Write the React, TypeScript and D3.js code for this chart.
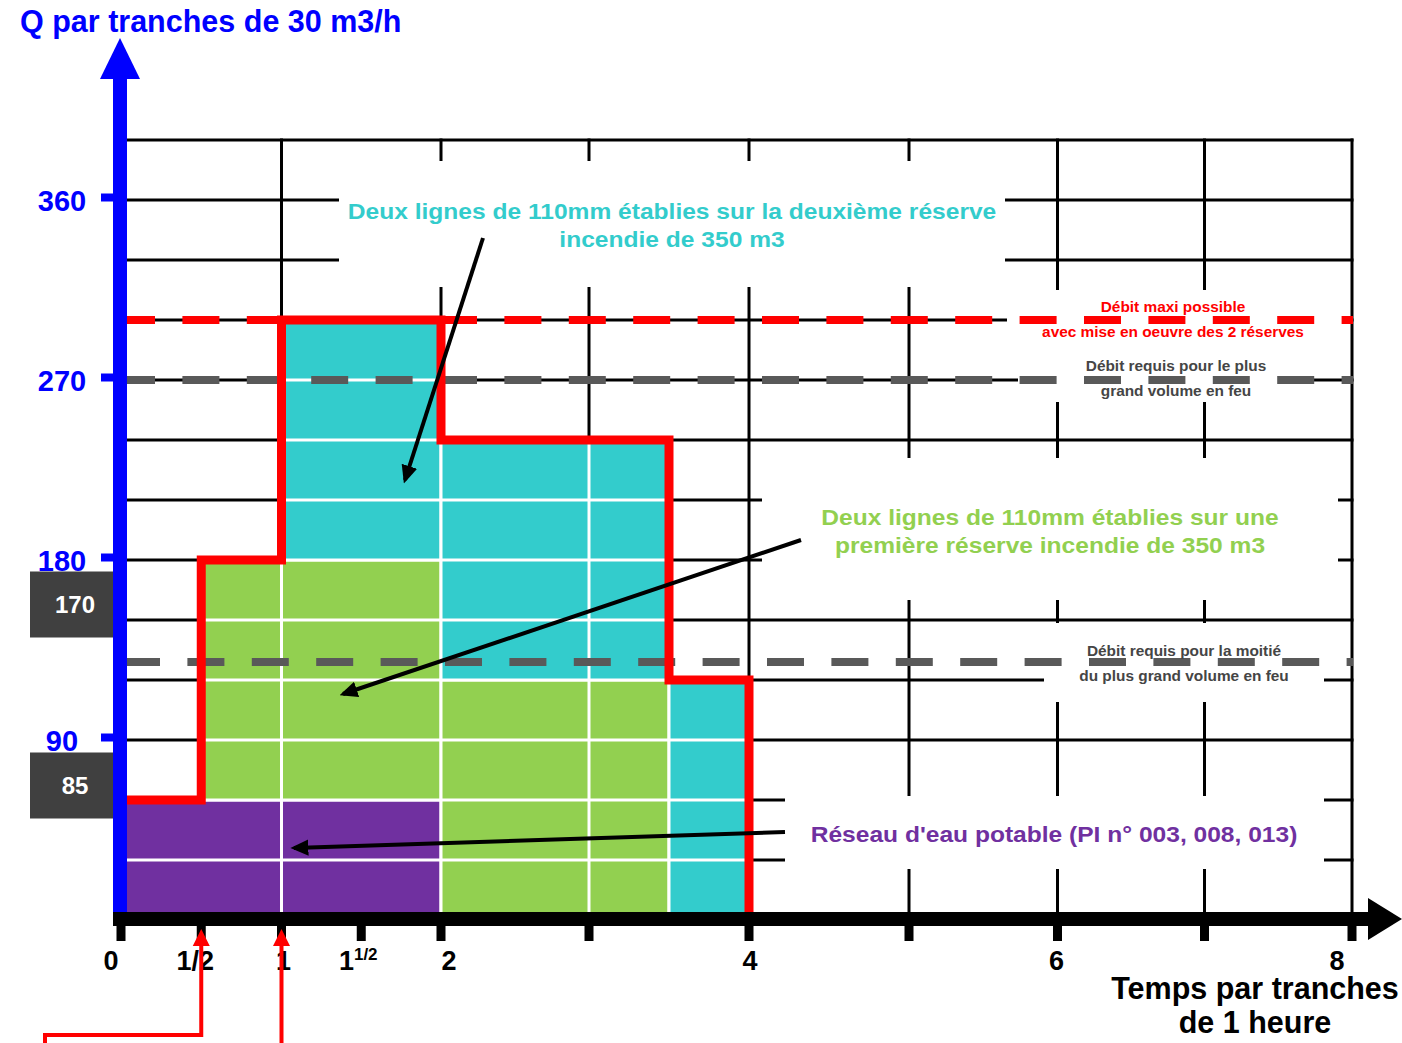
import React from "react";
import * as d3 from "d3";

// ---------------- DATA ----------------
const sourceKeys = ["reseau", "reserve1", "reserve2"];
const sourceStart = [0, 0.5, 1];
const sourceEnd = [2, 3.5, 4];
const sourceFlow = [60, 120, 120];

const yTickValues = [90, 180, 270, 360];
const yGridValues = [30, 60, 90, 120, 150, 180, 210, 240, 270, 300, 330, 360, 390];
const xTickValues = [0, 0.5, 1, 1.5, 2, 3, 4, 5, 6, 7, 8];
const xGridValues = [1, 2, 3, 4, 5, 6, 7, 8];
const xLabelValues = [0, 0.5, 1, 1.5, 2, 4, 6, 8];
const xLabelTexts = ["0", "1/2", "1", "1", "2", "4", "6", "8"];
const xLabelSup = ["", "", "", "1/2", "", "", "", ""];

const refLineValues = [300, 270, 129];
const refLineLabels = [
  ["Débit maxi possible", "avec mise en oeuvre des 2 réserves"],
  ["Débit requis pour le plus", "grand volume en feu"],
  ["Débit requis pour la moitié", "du plus grand volume en feu"],
];

const axisBoxValues = [170, 85];

const titleY = "Q par tranches de 30 m3/h";
const titleX = ["Temps par tranches", "de 1 heure"];

const annReserve2 = ["Deux lignes de 110mm établies sur la deuxième réserve", "incendie de 350 m3"];
const annReserve1 = ["Deux lignes de 110mm établies sur une", "première réserve incendie de 350 m3"];
const annReseau = ["Réseau d'eau potable (PI n° 003, 008, 013)"];

// ---------------- STYLE / LAYOUT ----------------
const W = 1402;
const H = 1043;
const FONT = "'Liberation Sans', Arial, Helvetica, sans-serif";
const COLORS: Record<string, string> = {
  reseau: "#7030A0",
  reserve1: "#92D050",
  reserve2: "#33CCCC",
};
const RED = "#FF0000";
const BLUE = "#0000FF";
const DASHGRAY = "#595959";
const TEXTGRAY = "#454545";
const refLineColors = [RED, DASHGRAY, DASHGRAY];
const refLineTextColors = [RED, TEXTGRAY, TEXTGRAY];
const ANN_SX = 1.117;

const xs = d3
  .scaleLinear()
  .domain([0, 1, 2, 3, 4, 5, 6, 7, 8])
  .range([121, 281.5, 441, 589, 749, 909, 1057.5, 1204.5, 1352]);
const ys = d3.scaleLinear().domain([0, 390]).range([920, 140]);

const labelDx: Record<string, number> = { "0": -10, "0.5": -6, "1": 2, "1.5": -3, "2": 8, "4": 1, "6": -1, "8": -15 };
const boxDy: Record<string, number> = { "170": 24.5, "85": 35.5 };

// stacking
type Seg = { key: string; x0: number; x1: number; y0: number; y1: number };
function buildSegments() {
  const bps = Array.from(new Set([...sourceStart, ...sourceEnd])).sort((a, b) => a - b);
  const raw: Seg[] = [];
  const totals: [number, number][] = [];
  for (let k = 0; k < bps.length - 1; k++) {
    const a = bps[k], b = bps[k + 1];
    let base = 0;
    sourceKeys.forEach((key, i) => {
      if (sourceStart[i] <= a && sourceEnd[i] >= b) {
        raw.push({ key, x0: a, x1: b, y0: base, y1: base + sourceFlow[i] });
        base += sourceFlow[i];
      }
    });
    totals.push([a, base]);
  }
  totals.push([bps[bps.length - 1], 0]);
  const merged: Seg[] = [];
  sourceKeys.forEach((key) => {
    const segs = raw.filter((s) => s.key === key).sort((p, q) => p.x0 - q.x0);
    segs.forEach((s) => {
      const last = merged[merged.length - 1];
      if (last && last.key === key && last.x1 === s.x0 && last.y0 === s.y0 && last.y1 === s.y1) {
        last.x1 = s.x1;
      } else merged.push({ ...s });
    });
  });
  return { merged, totals };
}

// label background boxes (pixel layout)
const bgBoxes = [
  [339, 161, 1005, 287],
  [762, 458, 1338, 600],
  [1044, 623, 1324, 702],
  [785, 796, 1324, 869],
  [1007, 290, 1350, 348],
  [1018, 348, 1313, 402],
];

function Ann({ lines, cx, y0, color }: { lines: string[]; cx: number; y0: number; color: string }) {
  return (
    <g transform={`translate(${cx},0) scale(${ANN_SX},1)`}>
      {lines.map((t, j) => (
        <text key={j} x={0} y={y0 + j * 28} textAnchor="middle" fontSize={22} fill={color}>
          {t}
        </text>
      ))}
    </g>
  );
}

export default function App() {
  const { merged, totals } = buildSegments();
  const envelope = d3
    .line<[number, number]>()
    .x((d) => xs(d[0]))
    .y((d) => ys(d[1]))
    .curve(d3.curveStepAfter)(totals) as string;

  const gridX0 = 127;
  const gridX1 = xs(8);
  const gridTop = ys(390);
  const axisY = 912;

  return (
    <svg
      width={W}
      height={H}
      viewBox={`0 0 ${W} ${H}`}
      style={{ position: "absolute", left: 0, top: 0, display: "block", background: "#fff" }}
      fontFamily={FONT}
      fontWeight="bold"
    >
      <defs>
        <marker id="ah" viewBox="0 0 10 10" refX="8" refY="5" markerWidth="4.5" markerHeight="4.5" orient="auto">
          <path d="M0,0.5 L10,5 L0,9.5 z" fill="#000" />
        </marker>
      </defs>
      <rect x={0} y={0} width={W} height={H} fill="#fff" />

      {/* black grid */}
      <g stroke="#000" strokeWidth={3}>
        {yGridValues.map((v) => (
          <line key={"h" + v} x1={gridX0} x2={gridX1 + 1.5} y1={ys(v)} y2={ys(v)} />
        ))}
        {xGridValues.map((v) => (
          <line key={"v" + v} x1={xs(v)} x2={xs(v)} y1={gridTop - 1.5} y2={axisY} />
        ))}
      </g>

      {/* label backgrounds */}
      {bgBoxes.map((b, i) => (
        <rect key={"bg" + i} x={b[0]} y={b[1]} width={b[2] - b[0]} height={b[3] - b[1]} fill="#fff" />
      ))}

      {/* stacked cells */}
      {merged.map((s, i) => {
        const x0 = xs(s.x0), x1 = xs(s.x1), y0 = ys(s.y0), y1 = ys(s.y1);
        const hLines = yGridValues.filter((v) => v > s.y0 && v < s.y1);
        const vLines = xGridValues.filter((v) => v > s.x0 && v < s.x1);
        return (
          <g key={"seg" + i}>
            <rect x={x0} y={y1} width={x1 - x0} height={y0 - y1} fill={COLORS[s.key]} stroke="#fff" strokeWidth={3} />
            {hLines.map((v) => (
              <line key={"sh" + v} x1={x0} x2={x1} y1={ys(v)} y2={ys(v)} stroke="#fff" strokeWidth={3} />
            ))}
            {vLines.map((v) => (
              <line key={"sv" + v} x1={xs(v)} x2={xs(v)} y1={y1} y2={y0} stroke="#fff" strokeWidth={3} />
            ))}
          </g>
        );
      })}

      {/* reference dashed lines */}
      {refLineValues.map((v, i) => (
        <line
          key={"ref" + i}
          x1={118}
          x2={gridX1 + 1}
          y1={ys(v)}
          y2={ys(v)}
          stroke={refLineColors[i]}
          strokeWidth={8}
          strokeDasharray="37 27.4"
          strokeDashoffset={i === 2 ? -5 : 0}
        />
      ))}

      {/* envelope */}
      <path d={envelope} fill="none" stroke={RED} strokeWidth={9} strokeLinejoin="miter" />

      {/* y axis */}
      <rect x={113} y={78} width={14} height={axisY - 78} fill={BLUE} />
      <polygon points="100,79 140,79 120,38" fill={BLUE} />
      {yTickValues.map((v) => (
        <g key={"yt" + v}>
          <rect x={101} y={ys(v) - 6.5} width={13} height={8} fill={BLUE} />
          <text x={62} y={ys(v) + 11} textAnchor="middle" fontSize={29} fill={BLUE}>
            {v}
          </text>
        </g>
      ))}
      <text x={20} y={32} fontSize={30.5} fill={BLUE}>
        {titleY}
      </text>

      {/* axis value boxes */}
      {axisBoxValues.map((v) => {
        const c = ys(v) + boxDy[String(v)];
        return (
          <g key={"ab" + v}>
            <rect x={30} y={c - 33} width={83} height={66} fill="#404040" />
            <text x={75} y={c + 8.5} textAnchor="middle" fontSize={24} fill="#fff">
              {v}
            </text>
          </g>
        );
      })}

      {/* x axis */}
      <rect x={113} y={axisY} width={1257} height={14} fill="#000" />
      <polygon points="1368,898 1402,919 1368,940" fill="#000" />
      {xTickValues.map((v) => (
        <rect key={"xt" + v} x={xs(v) - 4.5} y={926} width={9} height={15} fill="#000" />
      ))}
      {xLabelValues.map((v, i) => (
        <text key={"xl" + v} x={xs(v) + (labelDx[String(v)] || 0)} y={970} textAnchor="middle" fontSize={27} fill="#000">
          {xLabelTexts[i]}
          {xLabelSup[i] ? (
            <tspan fontSize={17} dy={-10}>
              {xLabelSup[i]}
            </tspan>
          ) : null}
        </text>
      ))}
      {titleX.map((t, i) => (
        <text key={"tx" + i} x={1255} y={999 + i * 34} textAnchor="middle" fontSize={30.5} fill="#000">
          {t}
        </text>
      ))}

      {/* reference line labels */}
      {[
        [1173, 312],
        [1176, 371],
        [1184, 656],
      ].map((p, i) =>
        refLineLabels[i].map((t, j) => (
          <text key={"rl" + i + j} x={p[0]} y={p[1] + j * 25} textAnchor="middle" fontSize={15.4} fill={refLineTextColors[i]}>
            {t}
          </text>
        ))
      )}

      {/* annotations */}
      <Ann lines={annReserve2} cx={672} y0={219} color={COLORS.reserve2} />
      <Ann lines={annReserve1} cx={1050} y0={525} color={COLORS.reserve1} />
      <Ann lines={annReseau} cx={1054} y0={842} color={COLORS.reseau} />

      {/* black pointer arrows */}
      <g stroke="#000" strokeWidth={4} markerEnd="url(#ah)">
        <line x1={483} y1={238} x2={405} y2={480} />
        <line x1={801} y1={540} x2={343} y2={694} />
        <line x1={785} y1={832} x2={294} y2={848} />
      </g>

      {/* red pointer arrows */}
      <g stroke={RED} strokeWidth={4} fill="none">
        <path d={`M${xs(1)},${H} V944`} />
        <path d={`M45,${H} V1035 H${xs(0.5)} V944`} strokeLinejoin="miter" />
      </g>
      <polygon points={`${xs(1)},929 ${xs(1) - 8.5},946 ${xs(1) + 8.5},946`} fill={RED} />
      <polygon points={`${xs(0.5)},929 ${xs(0.5) - 8.5},946 ${xs(0.5) + 8.5},946`} fill={RED} />
    </svg>
  );
}
